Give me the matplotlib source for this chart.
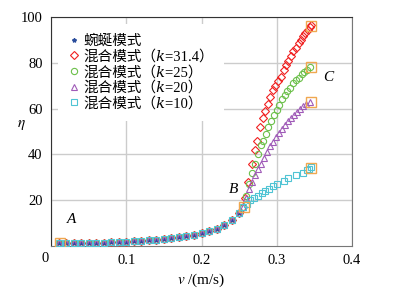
"""蜿蜒 / 混合模式 efficiency curve"""

import matplotlib
matplotlib.use("Agg")
import matplotlib.pyplot as plt

plt.rcParams["font.family"] = ["Liberation Serif", "Noto Sans CJK SC",
                               "DejaVu Serif", "DejaVu Sans"]
plt.rcParams["mathtext.fontset"] = "stix"

# shared low-speed part (all modes overlap here)
V_LOW = [0.010, 0.020, 0.030, 0.040, 0.050, 0.060, 0.070, 0.080, 0.090, 0.100,
         0.110, 0.120, 0.130, 0.140, 0.150, 0.160, 0.170, 0.180, 0.190, 0.200,
         0.210, 0.220, 0.230, 0.240, 0.250]
ETA_LOW = [1.2, 1.2, 1.2, 1.3, 1.3, 1.4, 1.5, 1.6, 1.7, 1.8,
           2.0, 2.2, 2.5, 2.8, 3.1, 3.5, 3.9, 4.4, 5.0, 5.6,
           6.4, 7.5, 9.0, 11.5, 14.5]

# k = 31.4
V_K314 = [0.255, 0.258, 0.262, 0.267, 0.271, 0.274, 0.278, 0.282, 0.285, 0.288,
          0.291, 0.295, 0.298, 0.301, 0.305, 0.309, 0.312, 0.315, 0.319, 0.322,
          0.325, 0.329, 0.332, 0.335, 0.338, 0.341, 0.344, 0.346]
ETA_K314 = [17, 21, 28, 36, 42, 46, 52, 56, 59, 62,
            65, 68, 70, 72, 74, 77, 79, 81, 83, 85,
            86.5, 88.5, 90, 91.5, 93, 94.5, 95.5, 96.5]

# k = 25
V_K25 = [0.255, 0.259, 0.263, 0.267, 0.271, 0.275, 0.279, 0.282, 0.286, 0.289,
         0.293, 0.296, 0.300, 0.303, 0.307, 0.311, 0.314, 0.318, 0.322, 0.325,
         0.329, 0.333, 0.336, 0.340, 0.344]
ETA_K25 = [17, 22, 27, 32, 36, 40, 44, 46, 49, 52,
           54.5, 57, 59.5, 61.5, 64, 66, 67.5, 69, 71, 72.5,
           73.5, 75, 76, 77, 78]

# k = 20
V_K20 = [0.255, 0.259, 0.263, 0.267, 0.271, 0.275, 0.279, 0.283, 0.287, 0.291,
         0.295, 0.299, 0.303, 0.307, 0.311, 0.315, 0.319, 0.323, 0.327, 0.331,
         0.335, 0.339, 0.344]
ETA_K20 = [17, 21, 25, 28, 31, 33.5, 36, 38.5, 41, 43.5,
           45.5, 47.5, 49.5, 51, 53, 54.5, 56, 57, 58.5, 60,
           61, 62, 63]

# k = 10
V_K10 = [0.255, 0.260, 0.265, 0.270, 0.275, 0.280, 0.285, 0.290, 0.295, 0.300,
         0.310, 0.315, 0.325, 0.335, 0.340, 0.343, 0.346]
ETA_K10 = [17, 18.5, 20, 21, 22, 23, 24, 25, 26, 27,
           28.5, 29.5, 31, 32, 33, 33.5, 34.5]

# marked points A, B, C
V_MARK = [0.012, 0.257, 0.345, 0.345, 0.345, 0.345]
ETA_MARK = [1.5, 17, 96, 78, 63, 34]

LABELS = ["蜿蜒模式",
          "混合模式（\U0001D458=31.4）",
          "混合模式（\U0001D458=25）",
          "混合模式（\U0001D458=20）",
          "混合模式（\U0001D458=10）"]

fig = plt.figure(figsize=(3.97, 2.91), dpi=100)
ax = fig.add_axes([51 / 397, 45 / 291, 301 / 397, 229 / 291])

ms = 4.5
ax.plot(V_LOW, ETA_LOW, ls="none", marker="*", color="#2a4d9c", ms=3,
        label=LABELS[0], zorder=2.6)
ax.plot(V_LOW + V_K314, ETA_LOW + ETA_K314, ls="none", marker="D", ms=ms * 0.8,
        mfc="none", mec="#f02020", mew=0.8, label=LABELS[1], zorder=3)
ax.plot(V_LOW + V_K25, ETA_LOW + ETA_K25, ls="none", marker="o", ms=ms,
        mfc="none", mec="#6cc04a", mew=0.8, label=LABELS[2], zorder=3)
ax.plot(V_LOW + V_K20, ETA_LOW + ETA_K20, ls="none", marker="^", ms=ms,
        mfc="none", mec="#a05bb8", mew=0.8, label=LABELS[3], zorder=3)
ax.plot(V_LOW + V_K10, ETA_LOW + ETA_K10, ls="none", marker="s", ms=ms * 0.9,
        mfc="none", mec="#4fc4d4", mew=0.8, label=LABELS[4], zorder=4)
ax.plot(V_MARK, ETA_MARK, ls="none", marker="s", ms=7, mfc="none",
        mec="#f0a850", mew=1.0, zorder=5)

ax.text(0.021, 10, "A", fontsize=11, style="italic")
ax.text(0.237, 23, "B", fontsize=11, style="italic")
ax.text(0.362, 72, "C", fontsize=11, style="italic")

ax.set_xlim(0, 0.4)
ax.set_ylim(0, 100)
ax.set_xticks([0, 0.1, 0.2, 0.3, 0.4])
ax.set_xticklabels(["", "0.1", "0.2", "0.3", "0.4"])
ax.set_yticks([20, 40, 60, 80, 100])
ax.tick_params(labelsize=10.5, direction="in", length=0, pad=6)
ax.grid(True, color="#cccccc", lw=1.0)
ax.set_axisbelow(True)
for side in ["left", "top"]:
    ax.spines[side].set_color("#333333")
for side in ["right", "bottom"]:
    ax.spines[side].set_color("#777777")

ax.set_xlabel("$v$ /(m/s)", fontsize=11, labelpad=3)
ax.set_ylabel("$\\eta$", fontsize=11, rotation=0, labelpad=12)
ax.yaxis.set_label_coords(-0.1, 0.5)
fig.text(45 / 397, 1 - 258 / 291, "0", fontsize=10.5, ha="center", va="center")

leg = ax.legend(loc="upper left", fontsize=10.5, frameon=True, framealpha=1,
                edgecolor="none", fancybox=False, handlelength=0.7,
                handletextpad=0.3, labelspacing=0.12, borderaxespad=0.5,
                borderpad=0.7)
leg.set_zorder(10)

fig.savefig("out.png", dpi=100)
